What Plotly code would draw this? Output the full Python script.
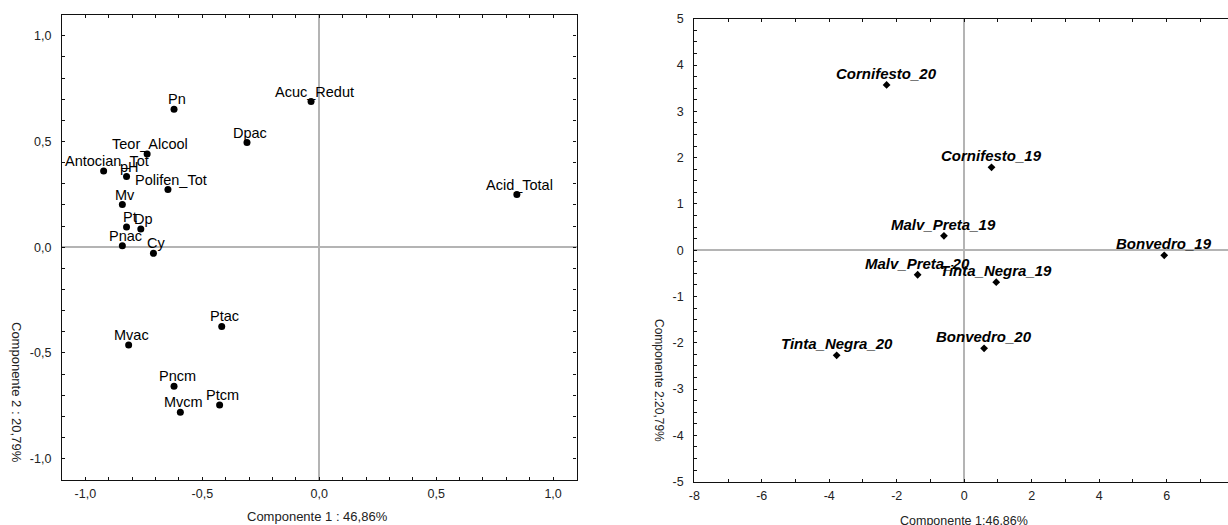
import plotly.graph_objects as go

W, H = 1228, 525

# ---- data: variable loadings (left) ----
var_names = ["Acuc_Redut", "Pn", "Dpac", "Teor_Alcool", "Antocian_Tot", "pH",
             "Polifen_Tot", "Acid_Total", "Mv", "Pt", "Dp", "Pnac", "Cy",
             "Ptac", "Mvac", "Pncm", "Ptcm", "Mvcm"]
var_pc1 = [-0.035, -0.621, -0.309, -0.736, -0.922, -0.824,
           -0.647, 0.845, -0.842, -0.824, -0.763, -0.842, -0.709,
           -0.417, -0.815, -0.621, -0.426, -0.594]
var_pc2 = [0.689, 0.653, 0.495, 0.441, 0.360, 0.334,
           0.273, 0.249, 0.202, 0.096, 0.086, 0.007, -0.029,
           -0.375, -0.463, -0.658, -0.747, -0.781]

# ---- data: case scores (right) ----
case_names = ["Cornifesto_20", "Cornifesto_19", "Malv_Preta_19", "Bonvedro_19",
              "Malv_Preta_20", "Tinta_Negra_19", "Bonvedro_20", "Tinta_Negra_20"]
case_pc1 = [-2.30, 0.81, -0.60, 5.93, -1.38, 0.95, 0.59, -3.78]
case_pc2 = [3.57, 1.79, 0.31, -0.11, -0.53, -0.69, -2.12, -2.27]

# ---- tick labels ----
left_tickvals = [-1.0, -0.5, 0.0, 0.5, 1.0]
left_ticktext = ["-1,0", "-0,5", "0,0", "0,5", "1,0"]
right_xtickvals = [-8, -6, -4, -2, 0, 2, 4, 6, 8]
right_xticktext = ["-8", "-6", "-4", "-2", "0", "2", "4", "6", "8"]
right_ytickvals = [-5, -4, -3, -2, -1, 0, 1, 2, 3, 4, 5]
right_yticktext = ["-5", "-4", "-3", "-2", "-1", "0", "1", "2", "3", "4", "5"]

FONT = "Arial, Liberation Sans, sans-serif"

fig = go.Figure()

fig.add_trace(go.Scatter(
    x=var_pc1, y=var_pc2, mode="markers", xaxis="x", yaxis="y",
    marker=dict(color="black", size=7, symbol="circle"),
    hoverinfo="skip", showlegend=False))

fig.add_trace(go.Scatter(
    x=case_pc1, y=case_pc2, mode="markers", xaxis="x2", yaxis="y2",
    marker=dict(color="black", size=6, symbol="diamond"),
    hoverinfo="skip", showlegend=False))

annotations = []
for n, x, y in zip(var_names, var_pc1, var_pc2):
    annotations.append(dict(x=x, y=y, xref="x", yref="y", text=n, showarrow=False,
                            xanchor="center", yanchor="bottom", xshift=3, yshift=0,
                            font=dict(family=FONT, size=14.5, color="black")))
for n, x, y in zip(case_names, case_pc1, case_pc2):
    annotations.append(dict(x=x, y=y, xref="x2", yref="y2",
                            text="<b><i>" + n + "</i></b>", showarrow=False,
                            xanchor="center", yanchor="bottom", yshift=1,
                            font=dict(family=FONT, size=15, color="black")))

# axis titles
annotations += [
    dict(x=317 / W, y=1 - 516 / H, xref="paper", yref="paper", text="Componente 1 : 46,86%",
         showarrow=False, xanchor="center", yanchor="middle",
         font=dict(family=FONT, size=13, color="#222")),
    dict(x=17 / W, y=1 - 392 / H, xref="paper", yref="paper", text="Componente 2 : 20,79%",
         showarrow=False, xanchor="center", yanchor="middle", textangle=90,
         font=dict(family=FONT, size=13, color="#222")),
    dict(x=964 / W, y=1 - 521 / H, xref="paper", yref="paper", text="Componente 1:46,86%",
         showarrow=False, xanchor="center", yanchor="middle",
         font=dict(family=FONT, size=12.5, color="#222")),
    dict(x=659 / W, y=1 - 380 / H, xref="paper", yref="paper", text="Componente 2:20,79%",
         showarrow=False, xanchor="center", yanchor="middle", textangle=90,
         font=dict(family=FONT, size=12, color="#222")),
]

common = dict(showgrid=False, showline=True, linecolor="#111", linewidth=1.2,
              ticks="inside", ticklen=3, tickcolor="#111", tickwidth=1,
              zeroline=True, zerolinecolor="#b4b4b4", zerolinewidth=1.6,
              tickfont=dict(family=FONT, size=12.5, color="#222"),
              tickmode="array", automargin=False)

fig.update_layout(
    width=W, height=H,
    margin=dict(l=0, r=0, t=0, b=0, pad=0, autoexpand=False),
    paper_bgcolor="white", plot_bgcolor="white",
    showlegend=False,
    annotations=annotations,
    xaxis=dict(domain=[62 / W, 576.5 / W], range=[-1.1, 1.1], anchor="y",
               tickvals=left_tickvals, ticktext=left_ticktext, mirror="ticks",
               ticklabelstandoff=2,
               minor=dict(tickmode="linear", tick0=0, dtick=0.1, ticks="inside",
                          ticklen=3, tickcolor="#111"),
               **common),
    yaxis=dict(domain=[1 - 479.7 / H, 1 - 14.7 / H], range=[-1.1, 1.1], anchor="x",
               tickvals=left_tickvals, ticktext=left_ticktext, mirror="ticks",
               ticklabelstandoff=7,
               minor=dict(tickmode="linear", tick0=0, dtick=0.1, ticks="inside",
                          ticklen=3, tickcolor="#111"),
               **common),
    xaxis2=dict(domain=[694.3 / W, 1.0], range=[-8, 7.82], anchor="y2",
                tickvals=right_xtickvals, ticktext=right_xticktext, mirror="ticks",
                ticklabelstandoff=2,
                minor=dict(tickmode="linear", tick0=0, dtick=1, ticks="inside",
                           ticklen=3, tickcolor="#111"),
                **common),
    yaxis2=dict(domain=[1 - 481.7 / H, 1 - 18.7 / H], range=[-5, 5], anchor="x2",
                tickvals=right_ytickvals, ticktext=right_yticktext, mirror=False,
                ticklabelstandoff=7,
                minor=dict(tickmode="linear", tick0=0, dtick=0.25, ticks="inside",
                           ticklen=3, tickcolor="#111"),
                **common),
)

fig.write_html("out.html")
